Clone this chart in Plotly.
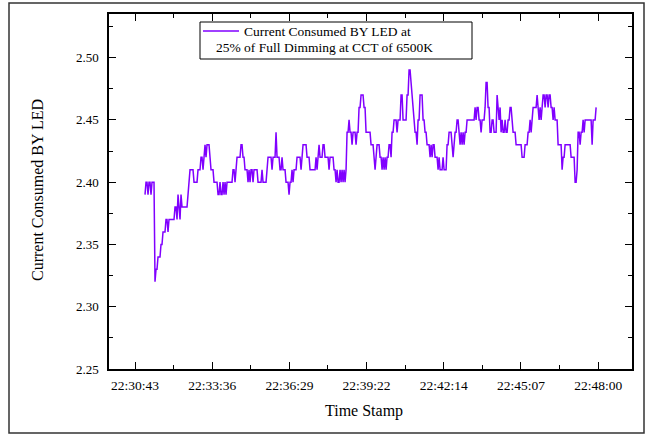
import pandas as pd
import plotly.graph_objects as go

# ---------------- data ----------------
START_TIME = "2024-01-01 22:31:05.6"
SAMPLE_MS = 2239

CURRENT = [
    2.39, 2.40, 2.40, 2.39, 2.40, 2.40, 2.39, 2.40, 2.40, 2.40,
    2.32, 2.33, 2.33, 2.34, 2.34, 2.34, 2.35, 2.35, 2.36, 2.36,
    2.36, 2.37, 2.37, 2.36, 2.37, 2.37, 2.37, 2.37, 2.37, 2.37,
    2.38, 2.38, 2.37, 2.39, 2.38, 2.37, 2.39, 2.38, 2.38, 2.38,
    2.38, 2.38, 2.38, 2.39, 2.40, 2.41, 2.41, 2.41, 2.41, 2.40,
    2.40, 2.40, 2.40, 2.41, 2.41, 2.41, 2.42, 2.42, 2.41, 2.42,
    2.43, 2.42, 2.43, 2.43, 2.43, 2.42, 2.41, 2.41, 2.41, 2.40,
    2.40, 2.40, 2.40, 2.39, 2.39, 2.40, 2.39, 2.39, 2.40, 2.39,
    2.40, 2.39, 2.40, 2.40, 2.40, 2.40, 2.40, 2.40, 2.41, 2.41,
    2.40, 2.41, 2.42, 2.42, 2.42, 2.42, 2.43, 2.43, 2.42, 2.42,
    2.41, 2.41, 2.41, 2.40, 2.41, 2.40, 2.41, 2.41, 2.40, 2.41,
    2.41, 2.41, 2.41, 2.40, 2.40, 2.40, 2.40, 2.41, 2.40, 2.40,
    2.40, 2.40, 2.41, 2.42, 2.42, 2.42, 2.42, 2.41, 2.42, 2.42,
    2.42, 2.44, 2.42, 2.42, 2.42, 2.41, 2.41, 2.42, 2.41, 2.41,
    2.41, 2.40, 2.40, 2.40, 2.39, 2.40, 2.40, 2.41, 2.40, 2.41,
    2.41, 2.41, 2.42, 2.42, 2.42, 2.42, 2.41, 2.42, 2.43, 2.43,
    2.43, 2.43, 2.42, 2.42, 2.42, 2.41, 2.41, 2.41, 2.41, 2.41,
    2.41, 2.42, 2.41, 2.42, 2.43, 2.42, 2.42, 2.42, 2.43, 2.43,
    2.42, 2.42, 2.42, 2.42, 2.41, 2.42, 2.42, 2.42, 2.42, 2.41,
    2.41, 2.40, 2.41, 2.40, 2.40, 2.41, 2.40, 2.41, 2.40, 2.41,
    2.40, 2.41, 2.44, 2.44, 2.45, 2.44, 2.44, 2.43, 2.44, 2.44,
    2.44, 2.43, 2.44, 2.44, 2.46, 2.46, 2.47, 2.47, 2.47, 2.46,
    2.46, 2.44, 2.44, 2.44, 2.44, 2.44, 2.43, 2.43, 2.43, 2.42,
    2.41, 2.42, 2.43, 2.43, 2.43, 2.42, 2.42, 2.41, 2.42, 2.41,
    2.42, 2.41, 2.42, 2.42, 2.43, 2.43, 2.42, 2.44, 2.44, 2.45,
    2.45, 2.45, 2.44, 2.45, 2.45, 2.45, 2.47, 2.47, 2.45, 2.45,
    2.45, 2.45, 2.47, 2.47, 2.49, 2.49, 2.48, 2.47, 2.46, 2.45,
    2.44, 2.44, 2.43, 2.45, 2.45, 2.47, 2.47, 2.47, 2.45, 2.45,
    2.44, 2.44, 2.43, 2.43, 2.43, 2.42, 2.43, 2.42, 2.43, 2.43,
    2.42, 2.42, 2.42, 2.41, 2.42, 2.41, 2.41, 2.41, 2.42, 2.41,
    2.41, 2.41, 2.43, 2.43, 2.44, 2.44, 2.44, 2.43, 2.42, 2.43,
    2.44, 2.44, 2.45, 2.45, 2.44, 2.43, 2.44, 2.43, 2.44, 2.43,
    2.44, 2.44, 2.45, 2.45, 2.45, 2.45, 2.45, 2.45, 2.45, 2.45,
    2.46, 2.45, 2.46, 2.46, 2.45, 2.45, 2.44, 2.45, 2.45, 2.45,
    2.46, 2.48, 2.48, 2.46, 2.46, 2.44, 2.44, 2.45, 2.45, 2.44,
    2.44, 2.44, 2.47, 2.46, 2.45, 2.46, 2.44, 2.45, 2.44, 2.44,
    2.45, 2.44, 2.44, 2.45, 2.45, 2.46, 2.46, 2.45, 2.44, 2.44,
    2.44, 2.43, 2.43, 2.43, 2.43, 2.43, 2.43, 2.42, 2.42, 2.42,
    2.43, 2.43, 2.43, 2.44, 2.44, 2.45, 2.44, 2.45, 2.46, 2.46,
    2.46, 2.46, 2.47, 2.46, 2.45, 2.46, 2.45, 2.46, 2.47, 2.47,
    2.46, 2.47, 2.47, 2.46, 2.47, 2.47, 2.46, 2.46, 2.45, 2.46,
    2.45, 2.45, 2.45, 2.43, 2.43, 2.43, 2.43, 2.41, 2.42, 2.42,
    2.43, 2.43, 2.43, 2.43, 2.43, 2.43, 2.42, 2.42, 2.42, 2.42,
    2.40, 2.40, 2.41, 2.44, 2.44, 2.43, 2.44, 2.44, 2.45, 2.44,
    2.45, 2.45, 2.45, 2.45, 2.45, 2.45, 2.45, 2.43, 2.45, 2.45,
    2.45, 2.46,
]

TICK_TIMES = ["22:30:43.2", "22:33:36.0", "22:36:28.8", "22:39:21.6",
              "22:42:14.4", "22:45:07.2", "22:48:00.0"]
TICK_LABELS = ["22:30:43", "22:33:36", "22:36:29", "22:39:22",
               "22:42:14", "22:45:07", "22:48:00"]
MINOR_TIMES = ["22:32:09.6", "22:35:02.4", "22:37:55.2", "22:40:48.0",
               "22:43:40.8", "22:46:33.6"]
X_RANGE = ["22:29:45.0", "22:49:15.7"]
Y_TICKS = [2.25, 2.30, 2.35, 2.40, 2.45, 2.50]
Y_RANGE = [2.25, 2.535]

LEGEND_LINES = ["Current Consumed BY LED at", "25% of Full Dimming at CCT of 6500K"]
X_TITLE = "Time Stamp"
Y_TITLE = "Current Consumed BY LED"

DAY = "2024-01-01 "
COLOR = "#8000ff"
FONT = "Liberation Serif"

times = pd.date_range(start=START_TIME, periods=len(CURRENT),
                      freq=pd.Timedelta(milliseconds=SAMPLE_MS))

# ---------------- figure ----------------
W, H = 647, 435
L, R, T, B = 109, 632, 14, 369
PW, PH = R - L, B - T


def px(X):
    return (X - L) / PW


def py(Y):
    return (B - Y) / PH


fig = go.Figure()
fig.add_trace(go.Scatter(
    x=times, y=CURRENT, mode="lines",
    line=dict(color=COLOR, width=1.5),
    name=" ".join(LEGEND_LINES), showlegend=False,
))

axis_common = dict(
    showline=True, linecolor="black", linewidth=1.5,
    mirror="allticks", ticks="inside", tickcolor="black",
    tickwidth=1.2, showgrid=False, zeroline=False,
)

fig.update_xaxes(
    type="date",
    range=[DAY + X_RANGE[0], DAY + X_RANGE[1]],
    tickmode="array",
    tickvals=[DAY + t for t in TICK_TIMES],
    ticktext=TICK_LABELS,
    ticklen=7,
    ticklabelstandoff=3,
    tickfont=dict(family=FONT, size=13.5, color="black"),
    minor=dict(tickmode="array", tickvals=[DAY + t for t in MINOR_TIMES],
               ticks="inside", ticklen=4, tickcolor="black", tickwidth=1.2,
               showgrid=False),
    **axis_common,
)
fig.update_yaxes(
    range=Y_RANGE,
    tickmode="array",
    tickvals=Y_TICKS,
    ticktext=[f"{v:.2f}" for v in Y_TICKS],
    ticklen=7,
    ticklabelstandoff=6,
    tickfont=dict(family=FONT, size=13, color="black"),
    minor=dict(dtick=0.025, tick0=2.25, ticks="inside", ticklen=4,
               tickcolor="black", tickwidth=1.2, showgrid=False),
    **axis_common,
)

shapes = [
    # outer frame
    dict(type="rect", xref="paper", yref="paper",
         x0=px(9), x1=px(644), y0=py(433), y1=py(3),
         line=dict(color="#333333", width=1.5), layer="below"),
    # legend box
    dict(type="rect", xref="paper", yref="paper",
         x0=px(200), x1=px(472), y0=py(59), y1=py(22),
         line=dict(color="black", width=1), fillcolor="white"),
    # legend line sample
    dict(type="line", xref="paper", yref="paper",
         x0=px(203), x1=px(239), y0=py(31), y1=py(31),
         line=dict(color=COLOR, width=1.5)),
]

annotations = [
    dict(text=LEGEND_LINES[0], xref="paper", yref="paper",
         x=px(242), y=py(31), xanchor="left", yanchor="middle",
         showarrow=False, font=dict(family=FONT, size=13.5, color="black")),
    dict(text=LEGEND_LINES[1], xref="paper", yref="paper",
         x=px(214), y=py(48), xanchor="left", yanchor="middle",
         showarrow=False, font=dict(family=FONT, size=13.5, color="black")),
    dict(text=X_TITLE, xref="paper", yref="paper",
         x=px(364), y=py(411), xanchor="center", yanchor="middle",
         showarrow=False, font=dict(family=FONT, size=16, color="black")),
    dict(text=Y_TITLE, xref="paper", yref="paper",
         x=px(37), y=py(190), xanchor="center", yanchor="middle",
         textangle=-90,
         showarrow=False, font=dict(family=FONT, size=16, color="black")),
]

fig.update_layout(
    width=W, height=H,
    margin=dict(l=L, r=W - R, t=T, b=H - B, pad=0),
    paper_bgcolor="white", plot_bgcolor="white",
    shapes=shapes, annotations=annotations,
    font=dict(family=FONT, color="black"),
    showlegend=False,
)

fig.write_html(
    "out.html",
    config={"displayModeBar": False},
    post_script="document.body.style.margin='0px';document.body.style.overflow='hidden';",
)
